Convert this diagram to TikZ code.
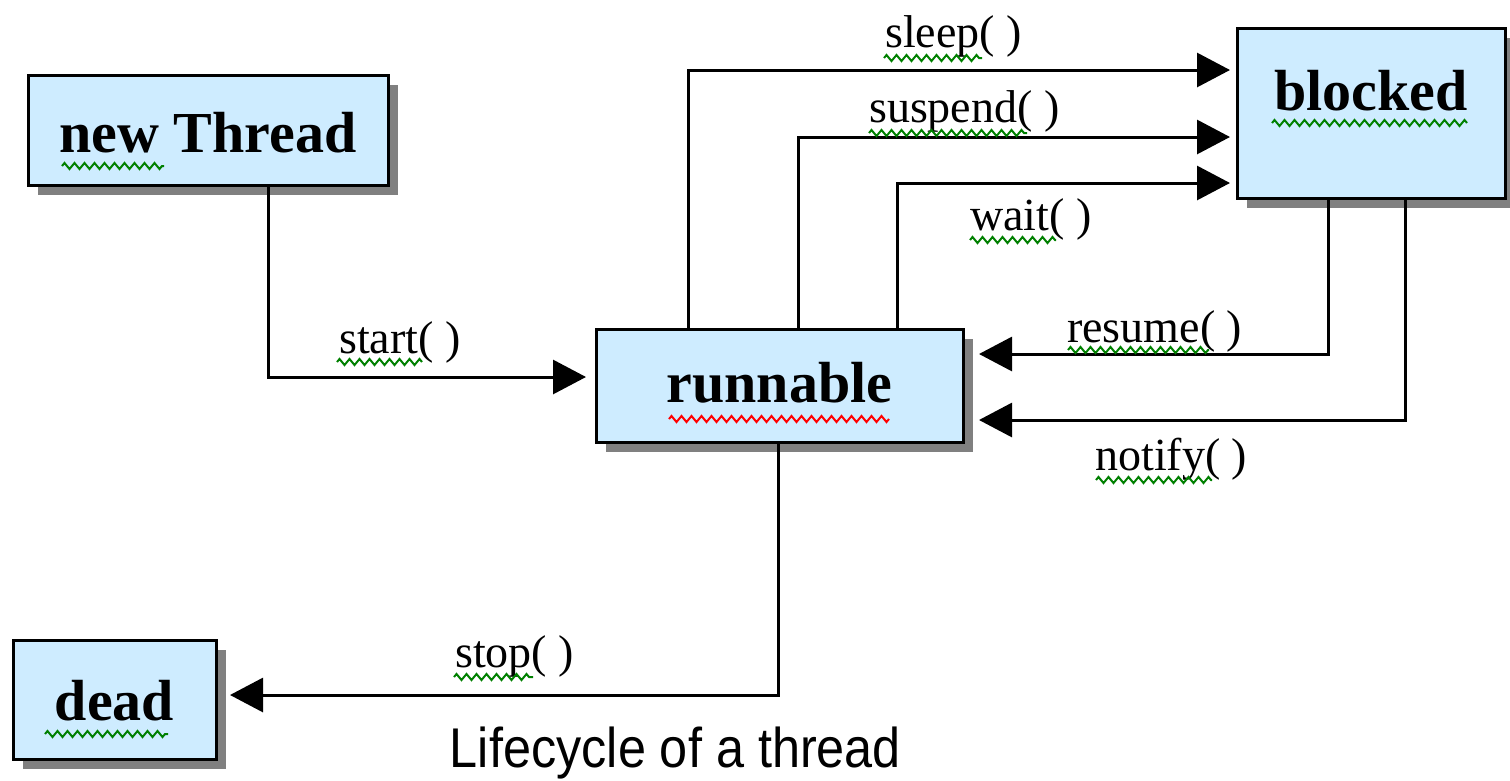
\documentclass[tikz,border=0pt]{standalone}
\usepackage{fontspec}
\setmainfont{Liberation Serif}
\newfontfamily\capfont[FakeStretch=0.9]{Liberation Sans}
\usetikzlibrary{arrows.meta,shadows,decorations.pathmorphing}
\definecolor{boxfill}{RGB}{206,236,255}
\definecolor{shadowgray}{RGB}{128,128,128}
\definecolor{squiggreen}{RGB}{0,128,0}
\definecolor{squigred}{RGB}{255,0,0}
\tikzset{
  statebox/.style={draw, line width=3pt, fill=boxfill, inner sep=0pt, outer sep=0pt,
    font=\fontsize{58}{60}\selectfont\bfseries,
    general shadow={fill=shadowgray, shadow xshift=10pt, shadow yshift=-10pt}},
  conn/.style={line width=3pt, -{Triangle[length=33pt,width=34pt]}},
  methlabel/.style={anchor=base west, inner sep=0pt, font=\fontsize{46}{50}\selectfont},
  squig/.style={line width=2pt, decorate, decoration={zigzag, segment length=10pt, amplitude=3pt}},
}
\begin{document}
\begin{tikzpicture}[x=1pt,y=-1pt]
\useasboundingbox (0,0) rectangle (1510,780);

% state boxes
\node[statebox, minimum width=360pt, minimum height=110pt, text height=44pt, text depth=0pt] (newt) at (208,130) {new Thread};
\node[statebox, minimum width=367pt, minimum height=113pt, text height=33pt, text depth=0pt] (run) at (779.5,385.5) {runnable};
\node[statebox, minimum width=268pt, minimum height=170pt, text height=40pt, text depth=46pt] (blk) at (1371,113) {blocked};
\node[statebox, minimum width=203pt, minimum height=119pt, text height=41pt, text depth=0pt] (dead) at (114.5,699.5) {dead};

% connectors
\draw[conn, shorten >=10pt] (newt.south -| 268,0) |- (run.west |- 0,377);
\draw[conn, shorten >=7pt] (run.north -| 688,0) |- (blk.west |- 0,70);
\draw[conn, shorten >=7pt] (run.north -| 798,0) |- (blk.west |- 0,137);
\draw[conn, shorten >=7pt] (run.north -| 897,0) |- (blk.west |- 0,183);
\draw[conn, shorten >=16pt] (blk.south -| 1328,0) |- (run.east |- 0,354);
\draw[conn, shorten >=16pt] (blk.south -| 1405,0) |- (run.east |- 0,420);
\draw[conn, shorten >=14pt] (run.south -| 778,0) |- (dead.east |- 0,695);

% method labels
\node[methlabel] (lsleep) at (885,47) {sleep( )};
\node[methlabel] (lsusp) at (869,122) {suspend( )};
\node[methlabel] (lwait) at (970,230) {wait( )};
\node[methlabel] (lstart) at (339,353) {start( )};
\node[methlabel] (lres) at (1067,342) {resume( )};
\node[methlabel] (lnot) at (1095,470) {notify( )};
\node[methlabel] (lstop) at (455,667) {stop( )};

% caption
\node[anchor=base, inner sep=0pt, font=\capfont\fontsize{56}{60}\selectfont] (cap) at (675.5,767) {Lifecycle of a thread};

% spell-check squiggles
\draw[squig, squiggreen] (62,166) -- (164,166);
\draw[squig, squigred] (669,419) -- (889,419);
\draw[squig, squiggreen] (1272,123) -- (1467,123);
\draw[squig, squiggreen] (45,734) -- (168,734);
\draw[squig, squiggreen] (884,58) -- (982,58);
\draw[squig, squiggreen] (869,133) -- (1027,133);
\draw[squig, squiggreen] (970,240) -- (1056,240);
\draw[squig, squiggreen] (337,362) -- (422,362);
\draw[squig, squiggreen] (1068,350) -- (1209,350);
\draw[squig, squiggreen] (1096,480) -- (1212,480);
\draw[squig, squiggreen] (454,677) -- (533,677);
\end{tikzpicture}
\end{document}
